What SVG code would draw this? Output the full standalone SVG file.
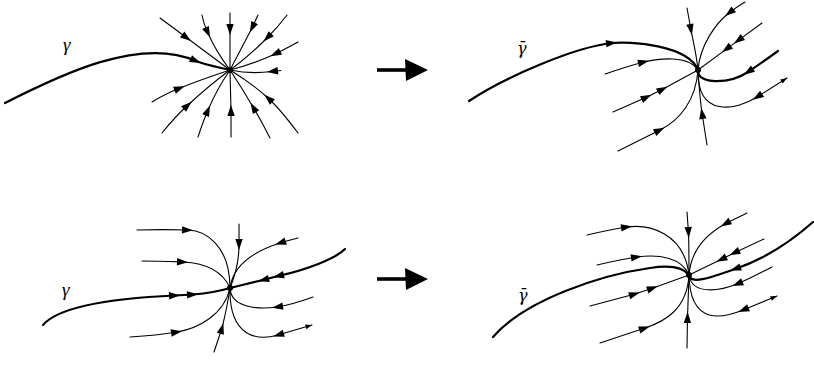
<svg xmlns="http://www.w3.org/2000/svg" width="814" height="366" viewBox="0 0 814 366">
<style>
.t{fill:none;stroke:#000;stroke-width:1.1;stroke-linecap:round;stroke-linejoin:round}
.k{fill:none;stroke:#000;stroke-width:2.2;stroke-linecap:round;stroke-linejoin:round}
.m{marker-mid:url(#ah)}
.s{marker-start:url(#sh)}
marker path{fill:#000;stroke:none}
.dot{fill:#000}
.lbl{font-family:"Liberation Serif","DejaVu Serif",serif;font-style:italic;font-size:19px;fill:#000}
.lbb{font-family:"DejaVu Serif",serif;font-style:italic;font-size:16px;fill:#000}
.big{stroke:#000;stroke-width:3.6;fill:none}
.bighead{fill:#000}
</style>
<defs>
<marker id="ah" markerUnits="userSpaceOnUse" markerWidth="14" markerHeight="10" viewBox="-7 -5 14 10" refX="0" refY="0" orient="auto"><path d="M5,0 L-6,-3.7 L-6,3.7 Z"/></marker>
<marker id="sh" markerUnits="userSpaceOnUse" markerWidth="10" markerHeight="8" viewBox="-8 -4 10 8" refX="0" refY="0" orient="auto-start-reverse"><path d="M0,0 L-6.5,-2.4 L-6.5,2.4 Z"/></marker>
</defs>

<g id="panel-top-left">
<text class="lbl" x="63" y="51">γ</text>
<path class="k m" d="M5,103 C60,75 140,36 196,61 C205,65 222,68 230,70"/>
<path class="t m" d="M281,70.5 L272,71.5 C260,73 244,73 230,70"/>
<path class="t m" d="M160,18 L187,38 L230,70"/>
<path class="t m" d="M202,15 C203,21 205,27 208,33 C213,45 221,58 230,70"/>
<path class="t m" d="M230,13 L230,30 L230,70"/>
<path class="t m" d="M258,15 L252,28 L230,70"/>
<path class="t m" d="M287,15 C281,23 274,31 267,38 C256,49 244,60 230,70"/>
<path class="t m" d="M298,42 C291,46 283,50 275,54 C262,60 246,66 230,70"/>
<path class="t m" d="M152,102 C160,97 170,92 180,88 C195,82 212,76 230,70"/>
<path class="t m" d="M162,133 C170,123 178,114 188,105 C201,93 215,81 230,70"/>
<path class="t m" d="M198,137 C201,128 204,119 208,110 C214,96 221,83 230,70"/>
<path class="t m" d="M231,137 L231,110 L230,70"/>
<path class="t m" d="M270,138 C265,128 259,117 253,107 C246,95 238,82 230,70"/>
<path class="t m" d="M298,133 C289,121 279,108 268,98 C256,87 243,78 230,70"/>
<circle class="dot" cx="230" cy="70" r="3"/>
</g>

<g id="panel-top-right">
<text class="lbb" x="517" y="54">γ̄</text>
<path class="k m" d="M469,101 C505,77 575,47 612,43 C630,41 688,45 698,70"/>
<path class="k m" d="M778,51 C767,59 757,66 748,72 C730,84 697,85 698,70"/>
<path class="t m" d="M687,8 L691,30 C694,45 697,58 698,70"/>
<path class="t m" d="M707,145 L702,113 C700,100 699,85 698,70"/>
<path class="t m" d="M745,2 C740,5 734,9 729,13 C716,23 700,45 698,70"/>
<path class="t m" d="M762,23 L738,40.6 L726,49.4 L698,70"/>
<path class="t m" d="M613,112 L647,97 L663,89 L698,70"/>
<path class="t m" d="M605,74 C618,70 631,65 644,62 C660,58.3 688,55 698,70"/>
<path class="t m" d="M618,151 C632,144 646,137 660,130 C680,120 696,100 698,70"/>
<path class="t m s" d="M787,78 L757,97 C736,110.4 697,118 698,70"/>
<circle class="dot" cx="698" cy="70" r="3"/>
</g>

<g id="panel-bottom-left">
<text class="lbl" x="62" y="296">γ</text>
<path class="k m" d="M43,325 C60,305 120,298 175,295.5 L193,294.5 C205,293.5 220,291 230,288"/>
<path class="k m" d="M345,249 C335,259 306,270 278,276 L263,280 L230,288"/>
<path class="t m" d="M239,224 L239,245 C239,262 235,276 230,288"/>
<path class="t m" d="M214,352 L222,328 C225,316 228,302 230,288"/>
<path class="t m" d="M137,230 C154,229.5 171,229.5 188,230 C205,230.5 230,245 230,288"/>
<path class="t m" d="M142,261 C156,261 169,261.5 183,262 C203,263 222,270 230,288"/>
<path class="t m" d="M298,238 C292,239.5 286,241 280,243 C255,251 233,265 230,288"/>
<path class="t m" d="M313,297 C302,301 290,305 277,307 C264,309 231,310 230,288"/>
<path class="t m s" d="M312,325 L278,335 C258,340.9 229,338 230,288"/>
<path class="t m" d="M130,337 C146,336 162,334.5 177,332 C198,328.5 224,315 230,288"/>
<circle class="dot" cx="230" cy="288" r="3"/>
</g>

<g id="panel-bottom-right">
<text class="lbb" x="518" y="301">γ̄</text>
<path class="k" d="M493,337 C525,300 600,275 650,268 C670,265 683,267 689,275"/>
<path class="k m" d="M813,222 C795,238 770,257 735,269 C716,275.5 690,286 689,275"/>
<path class="t m" d="M687,212 L688.5,233 C689,248 689,262 689,275"/>
<path class="t m" d="M687,348 L687.5,317 C688,303 688.5,290 689,275"/>
<path class="t m" d="M587,235 C600,232 613,229 627,227 C648,224 684,232 689,275"/>
<path class="t m" d="M597,265 C610,262 623,259 637,257 C660,254 682,258 689,275"/>
<path class="t m" d="M590,306 L635,294 L653,288 L689,275"/>
<path class="t m" d="M764,239 L734,253 L721,259.5 L689,275"/>
<path class="t m" d="M747,213 C740,216.5 732,220 725,224 C705,235 691,250 689,275"/>
<path class="t m" d="M772,267 C760,273 749,279 737,284 C721,290.5 692,296 689,275"/>
<path class="t m s" d="M777,296 L743,310 C724,317.8 690,327 689,275"/>
<path class="t m" d="M600,343 C615,338 630,333 645,328 C664,321.7 687,310 689,275"/>
<circle class="dot" cx="689" cy="275" r="3"/>
</g>

<g id="connectors">
<line class="big" x1="377" y1="70" x2="408" y2="70"/>
<path class="bighead" d="M405,59 L428,70 L406,81 Z"/>
<line class="big" x1="377" y1="279" x2="408" y2="279"/>
<path class="bighead" d="M405,268 L428,279 L406,290 Z"/>
</g>
</svg>
